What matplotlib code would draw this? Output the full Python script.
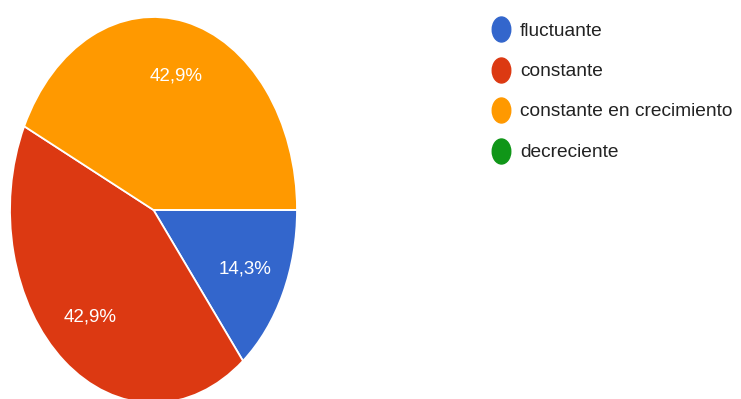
import matplotlib
matplotlib.use("Agg")
import matplotlib.pyplot as plt
from matplotlib.lines import Line2D
from matplotlib.path import Path
from matplotlib.transforms import Affine2D

labels = ["fluctuante", "constante", "constante en crecimiento", "decreciente"]
counts = [1, 3, 3, 0]
colors = ["#3366cc", "#dc3912", "#ff9900", "#109618"]

FONT = ["Liberation Sans", "DejaVu Sans"]
W, H = 741, 399


def pct_label(p):
    # zero slices get no label
    if p < 0.5:
        return ""
    return f"{p:.1f}%".replace(".", ",")


fig = plt.figure(figsize=(W / 100, H / 100), dpi=100)

# pie sits in a tall axes with auto aspect, so it is drawn as an upright ellipse
ax = fig.add_axes([10 / W, 1 - 403 / H, 287 / W, 386 / H])
wedges, texts, autotexts = ax.pie(
    counts, colors=colors, startangle=0, counterclock=False,
    autopct=pct_label, pctdistance=0.71,
    wedgeprops=dict(edgecolor="white", linewidth=1.3),
    textprops=dict(color="white", fontsize=13.5, family=FONT),
)
ax.set_aspect("auto")
ax.set_xlim(-1, 1)
ax.set_ylim(-1, 1)
ax.axis("off")

# legend drawn by hand: elliptical dots plus labels
dot = Path.unit_circle().transformed(Affine2D().scale(1, 1.35))
x_dot, x_txt = 501, 520
y0, dy = 29, 40.5
for i, (lab, c) in enumerate(zip(labels, colors)):
    y = 1 - (y0 + i * dy) / H
    fig.add_artist(Line2D([x_dot / W], [y], marker=dot, markersize=18,
                          markerfacecolor=c, markeredgecolor=c,
                          linestyle="", transform=fig.transFigure))
    fig.text(x_txt / W, y - 2 / H, lab, fontsize=13.8, family=FONT,
             color="#222222", va="center", ha="left")

fig.savefig("out.png", dpi=100)
